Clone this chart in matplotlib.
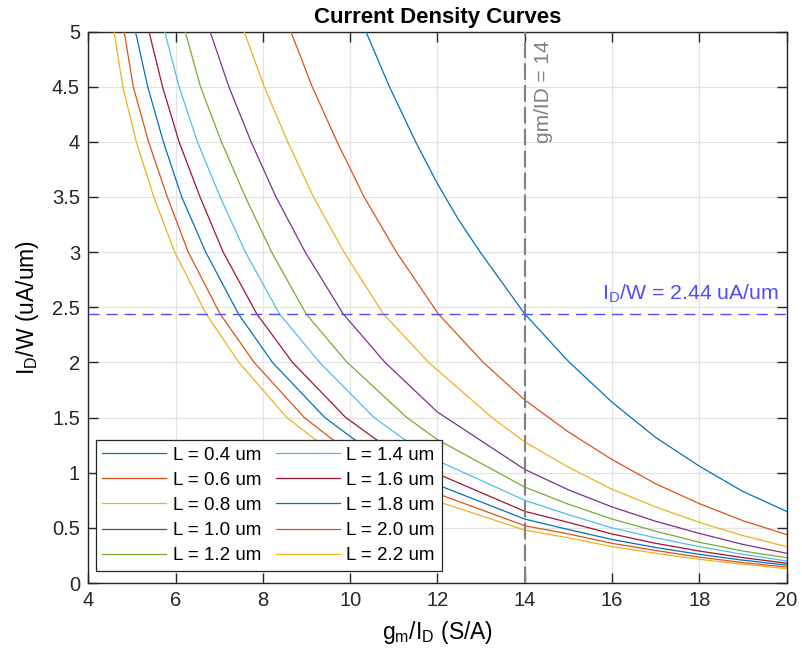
"""Current density curves (I_D/W versus gm/I_D) for several channel lengths."""

import matplotlib as mpl
import matplotlib.pyplot as plt

# channel lengths (um)
lengths = [0.4, 0.6, 0.8, 1.0, 1.2, 1.4, 1.6, 1.8, 2.0, 2.2]

# points, one list per curve: gm/ID (S/A) and ID/W (uA/um)
curve_gm = [
    [10.36, 10.9, 11.5, 12.0, 12.49, 12.98, 14.0, 15.0, 16.0, 17.0, 18.0, 19.0, 20.0],
    [8.64, 9.13, 9.7, 10.32, 11.06, 12.02, 13.05, 14.0, 15.0, 16.0, 17.0, 18.0, 19.0, 20.0],
    [7.57, 8.03, 8.57, 9.16, 9.86, 10.76, 11.8, 13.25, 14.0, 15.0, 16.0, 17.0, 18.0, 19.0, 20.0],
    [6.79, 7.22, 7.73, 8.30, 8.97, 9.84, 10.8, 12.0, 14.0, 15.0, 16.0, 17.0, 18.0, 19.0, 20.0],
    [6.22, 6.57, 7.05, 7.6, 8.2, 8.99, 9.93, 11.3, 12.0, 14.0, 15.0, 16.0, 17.0, 18.0, 19.0, 20.0],
    [5.75, 6.08, 6.5, 7.02, 7.6, 8.38, 9.3, 10.55, 11.25, 12.0, 14.0, 15.0, 16.0, 17.0, 18.0, 19.0, 20.0],
    [5.39, 5.70, 6.08, 6.56, 7.09, 7.86, 8.68, 9.9, 10.6, 12.0, 14.0, 15.0, 16.0, 17.0, 18.0, 19.0, 20.0],
    [5.08, 5.36, 5.72, 6.14, 6.69, 7.44, 8.22, 9.42, 10.1, 12.0, 14.0, 15.0, 16.0, 17.0, 18.0, 19.0, 20.0],
    [4.82, 5.03, 5.38, 5.81, 6.29, 7.02, 7.8, 8.95, 9.6, 12.0, 14.0, 15.0, 16.0, 17.0, 18.0, 19.0, 20.0],
    [4.59, 4.79, 5.1, 5.5, 5.98, 6.70, 7.45, 8.55, 9.2, 12.0, 14.0, 15.0, 16.0, 17.0, 18.0, 19.0, 20.0],
]
curve_idw = [
    [5.0, 4.5, 4.0, 3.62, 3.29, 3.0, 2.44, 2.01, 1.64, 1.32, 1.06, 0.83, 0.65],
    [5.0, 4.5, 4.0, 3.5, 3.0, 2.44, 2.0, 1.66, 1.37, 1.12, 0.90, 0.72, 0.565, 0.44],
    [5.0, 4.5, 4.0, 3.5, 3.0, 2.44, 2.0, 1.5, 1.28, 1.05, 0.85, 0.69, 0.55, 0.43, 0.33],
    [5.0, 4.5, 4.0, 3.5, 3.0, 2.44, 2.0, 1.55, 1.03, 0.845, 0.69, 0.56, 0.45, 0.35, 0.27],
    [5.0, 4.5, 4.0, 3.5, 3.0, 2.44, 2.0, 1.5, 1.30, 0.87, 0.715, 0.58, 0.47, 0.37, 0.29, 0.23],
    [5.0, 4.5, 4.0, 3.5, 3.0, 2.44, 2.0, 1.5, 1.30, 1.11, 0.75, 0.62, 0.50, 0.41, 0.33, 0.26, 0.20],
    [5.0, 4.5, 4.0, 3.5, 3.0, 2.44, 2.0, 1.5, 1.30, 0.99, 0.65, 0.55, 0.445, 0.36, 0.29, 0.23, 0.18],
    [5.0, 4.5, 4.0, 3.5, 3.0, 2.44, 2.0, 1.5, 1.30, 0.89, 0.58, 0.485, 0.395, 0.322, 0.26, 0.207, 0.163],
    [5.0, 4.5, 4.0, 3.5, 3.0, 2.44, 2.0, 1.5, 1.30, 0.81, 0.52, 0.445, 0.36, 0.295, 0.235, 0.185, 0.145],
    [5.0, 4.5, 4.0, 3.5, 3.0, 2.44, 2.0, 1.5, 1.30, 0.74, 0.48, 0.41, 0.33, 0.27, 0.215, 0.17, 0.13],
]

target_gm_id = 14
target_idw = 2.44

x_ticks = [4, 6, 8, 10, 12, 14, 16, 18, 20]
y_ticks = [0, 0.5, 1, 1.5, 2, 2.5, 3, 3.5, 4, 4.5, 5]
y_tick_labels = ["0", "0.5", "1", "1.5", "2", "2.5", "3", "3.5", "4", "4.5", "5"]

matlab_colors = ["#0072BD", "#D95319", "#EDB120", "#7E2F8E", "#77AC30", "#4DBEEE", "#A2142F"]

mpl.rcParams.update(
    {
        "font.family": ["Liberation Sans", "DejaVu Sans"],
        "mathtext.fontset": "custom",
        "mathtext.rm": "Liberation Sans",
        "font.size": 14.5,
        "axes.linewidth": 1.0,
        "axes.edgecolor": "#262626",
        "xtick.color": "#262626",
        "ytick.color": "#262626",
    }
)

fig = plt.figure(figsize=(8.03, 6.57), dpi=100)
ax = fig.add_axes([0.110, 0.1126, 0.8695, 0.8394])

for i, (length, xs, ys) in enumerate(zip(lengths, curve_gm, curve_idw)):
    ax.plot(xs, ys, color=matlab_colors[i % 7], linewidth=0.9, label=f"L = {length:.1f} um",
            zorder=3, solid_joinstyle="round")

ax.axvline(target_gm_id, color="#808080", linewidth=1.5, linestyle=(0, (8, 2.5)), zorder=4)
ax.axhline(target_idw, color="#4D4DFF", linewidth=1.0, linestyle=(0, (8, 5)), zorder=4)
ax.text(14.43, 4.92, f"gm/ID = {target_gm_id}", rotation=90, ha="center", va="top",
        color="#808080", fontsize=15)
ax.text(19.82, 2.52, r"I$_\mathrm{D}$/W = " + f"{target_idw} uA/um", ha="right", va="bottom",
        color="#4D4DFF", fontsize=15.3)

ax.set_xlim(4, 20)
ax.set_ylim(0, 5)
ax.set_xticks(x_ticks)
ax.set_yticks(y_ticks)
ax.set_yticklabels(y_tick_labels)
ax.tick_params(direction="in", length=7, width=1.0, top=True, right=True, labelsize=14.5, pad=6)
ax.grid(True, color="#E3E3E3", linewidth=0.9, zorder=0)
ax.set_axisbelow(True)

ax.set_title("Current Density Curves", fontweight="bold", fontsize=16, pad=6)
ax.set_xlabel(r"g$_\mathrm{m}$/I$_\mathrm{D}$ (S/A)", fontsize=16.5, labelpad=6)
ax.set_ylabel(r"I$_\mathrm{D}$/W (uA/um)", fontsize=16.5, labelpad=8)

legend = ax.legend(
    ncol=2,
    loc="lower left",
    bbox_to_anchor=(0.0107, 0.0218),
    borderaxespad=0,
    fontsize=13.5,
    frameon=True,
    fancybox=False,
    framealpha=1,
    edgecolor="#262626",
    handlelength=3.4,
    handletextpad=0.35,
    columnspacing=0.8,
    labelspacing=0.43,
    borderpad=0.35,
)
legend.get_frame().set_linewidth(0.9)
legend.set_zorder(5)

fig.savefig("out.png", dpi=100)
